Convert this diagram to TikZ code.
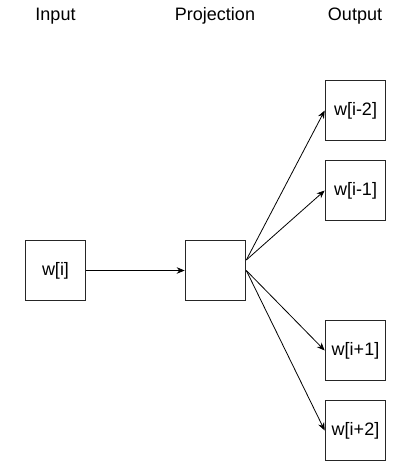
\documentclass[tikz,border=0pt]{standalone}
\usepackage{fontspec}
\setmainfont{Liberation Sans}
\usetikzlibrary{arrows.meta,calc}
\begin{document}
\begin{tikzpicture}[x=1pt,y=1pt,
  box/.style={draw=black!85,line width=1.6pt,minimum width=60pt,minimum height=60pt,inner sep=0pt,font=\fontsize{18}{21}\selectfont},
  lbl/.style={font=\fontsize{18}{21}\selectfont,inner sep=0pt},
  arr/.style={-{Stealth[length=8pt,width=6.5pt]},line width=0.8pt}]
\useasboundingbox (0,0) rectangle (411,-462);
\node[lbl] (tin) at (55.5,-16) {Input};
\node[lbl] (tpr) at (215,-16) {Projection};
\node[lbl] (tout) at (355,-16) {Output};
\node[box] (in) at (55.5,-270.5) {w[i]};
\node[box] (proj) at (215.5,-270.5) {};
\node[box] (o1) at (355.5,-110.5) {w[i-2]};
\node[box] (o2) at (355.5,-190.5) {w[i-1]};
\node[box] (o3) at (355.5,-350.5) {w[i+1]};
\node[box] (o4) at (355.5,-430.5) {w[i+2]};
\coordinate (pu) at ($(proj.east)+(0,10.5)$);
\coordinate (pd) at ($(proj.east)+(0,0)$);
\draw[arr] (in.east) -- (proj.west);
\draw[arr] (pu) -- (o1.west);
\draw[arr] (pu) -- (o2.west);
\draw[arr] (pd) -- (o3.west);
\draw[arr] (pd) -- (o4.west);
\end{tikzpicture}
\end{document}
